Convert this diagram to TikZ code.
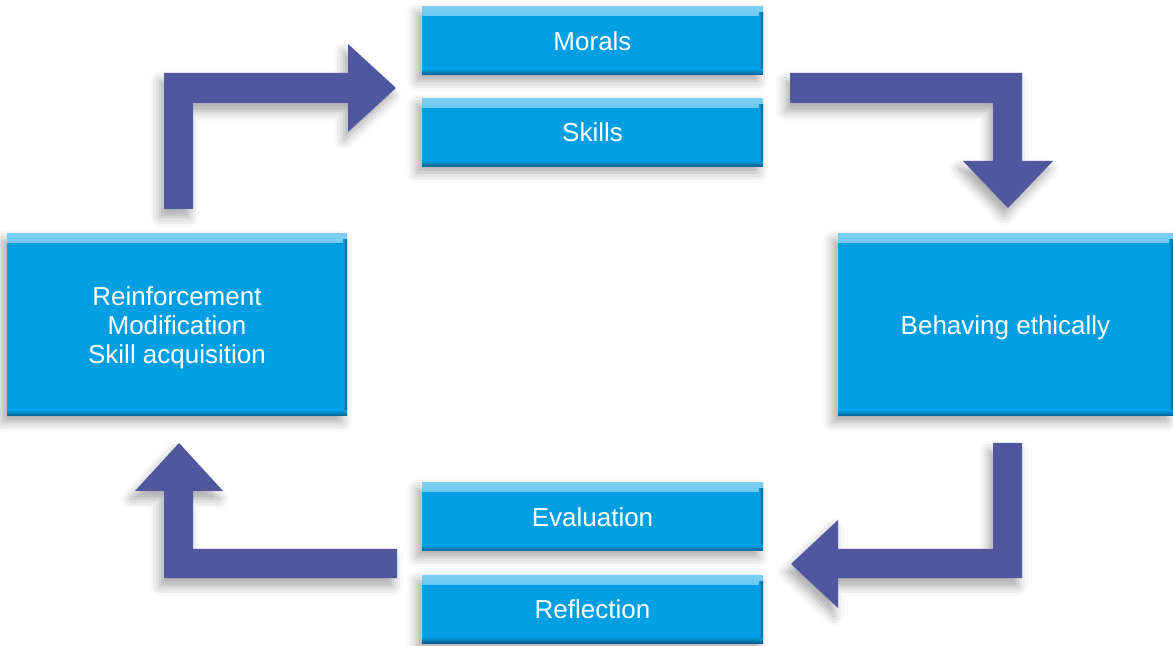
\documentclass[tikz,border=0pt]{standalone}
\usepackage{fontspec}
\setmainfont{Liberation Sans}
\usetikzlibrary{shadows.blur}
\definecolor{boxblue}{HTML}{009FE3}
\definecolor{boxlight}{HTML}{7CCEF1}
\definecolor{boxdark}{HTML}{005F8E}
\definecolor{arrowblue}{HTML}{4F589E}
\tikzset{
  box/.style={fill=boxblue, text=white, inner sep=0pt, align=center,
    font=\fontsize{13pt}{14.5pt}\selectfont,
    blur shadow={shadow xshift=-2.5pt, shadow yshift=-3pt, shadow blur radius=5pt, shadow opacity=35},
    path picture={
      \shade[top color=boxlight, bottom color=boxblue]
        (path picture bounding box.north west) rectangle ([yshift=-4.5pt]path picture bounding box.north east);
      \shade[top color=boxblue, bottom color=boxdark]
        ([yshift=3pt]path picture bounding box.south west) rectangle (path picture bounding box.south east);
      \shade[left color=boxblue, right color=boxdark]
        ([xshift=-2pt,yshift=3pt]path picture bounding box.south east) rectangle ([yshift=-3pt]path picture bounding box.north east);
    }},
  smallbox/.style={box, minimum width=170.5pt, minimum height=34pt, text height=9.4pt, text depth=0pt},
  bigbox/.style={box, minimum height=91pt},
  blockarrow/.style={fill=arrowblue,
    blur shadow={shadow xshift=-2pt, shadow yshift=-4pt, shadow blur radius=5pt, shadow opacity=35}}
}
\begin{document}
\begin{tikzpicture}[x=0.5pt,y=-0.5pt]
\useasboundingbox (0,0) rectangle (1173,646);
% boxes
\node[smallbox] (morals) at (592.5,41) {Morals};
\node[smallbox] (skills) at (592.5,132.5) {Skills};
\node[bigbox, minimum width=170pt, text depth=0pt] (reinf) at (177,325) {Reinforcement\\Modification\\Skill acquisition};
\node[bigbox, minimum width=167.5pt, text height=9.4pt, text depth=0pt] (behav) at (1005.5,325) {Behaving ethically};
\node[smallbox] (eval) at (592.5,517) {Evaluation};
\node[smallbox] (refl) at (592.5,609) {Reflection};
% block arrows
\fill[blockarrow] (164,209) -- (164,73) -- (348,73) -- (348,44) -- (396,88) -- (348,132) -- (348,103) -- (193,103) -- (193,209) -- cycle;
\fill[blockarrow] (790,73) -- (1022,73) -- (1022,161) -- (1053,161) -- (1008,208) -- (963,161) -- (993,161) -- (993,103) -- (790,103) -- cycle;
\fill[blockarrow] (1022,443) -- (1022,578) -- (838,578) -- (838,608) -- (791,564) -- (838,520) -- (838,549) -- (993,549) -- (993,443) -- cycle;
\fill[blockarrow] (397,549) -- (397,578) -- (164,578) -- (164,491) -- (135,491) -- (179,443) -- (223,491) -- (193,491) -- (193,549) -- cycle;
\end{tikzpicture}
\end{document}
